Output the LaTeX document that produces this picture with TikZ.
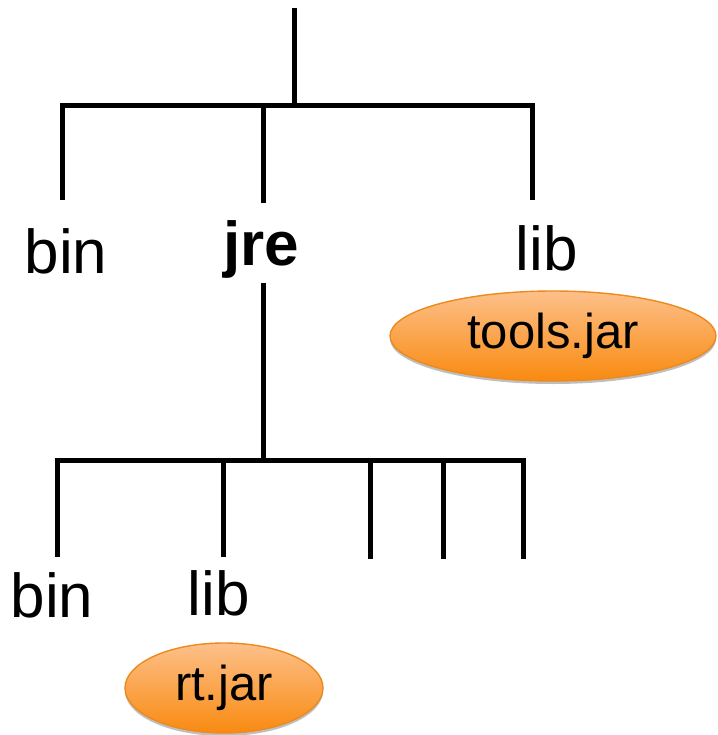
\documentclass[tikz,border=0pt]{standalone}
\usepackage{fontspec}
\setmainfont{Liberation Sans}
\usetikzlibrary{shapes.geometric,shadows}
\definecolor{orTop}{HTML}{FDC08A}
\definecolor{orBot}{HTML}{F98A10}
\definecolor{orEdge}{HTML}{EC8A1E}
\tikzset{
  branch/.style={line width=5pt, black, line cap=butt},
  lbl/.style={anchor=base, inner sep=0pt, font=\fontsize{62}{62}\selectfont},
  jar/.style={ellipse, draw=orEdge, line width=1.4pt, top color=orTop, bottom color=orBot,
    inner sep=0pt, font=\fontsize{49}{49}\selectfont,
    drop shadow={opacity=0.25, shadow xshift=0pt, shadow yshift=-3pt, fill=black}}
}
\begin{document}
\begin{tikzpicture}[x=1pt,y=-1pt]
\useasboundingbox (0,0) rectangle (717,735);
% top level
\coordinate (root) at (294,8);
\coordinate (rootj) at (294,106);
\coordinate (h1l) at (62,106);
\coordinate (h1r) at (532,106);
\coordinate (h1m) at (263,106);
\coordinate (e1) at (62,200);
\coordinate (e2) at (263,203);
\coordinate (e3) at (532,200);
\node[lbl] (bin1) at (66,273) {bin};
\node[lbl, font=\fontsize{62}{62}\selectfont\bfseries] (jre) at (261,265) {jre};
\node[lbl] (lib1) at (547,270) {lib};
\node[jar, minimum width=326pt, minimum height=90pt] (tools) at (553,336) {tools.jar};
\draw[branch] (root) -- (rootj);
\draw[branch] ([xshift=-2.5pt]h1l) -- ([xshift=2.5pt]h1r);
\draw[branch] (h1l) -- (e1);
\draw[branch] (h1m) -- (e2);
\draw[branch] (h1r) -- (e3);
% jre level
\coordinate (jtop) at (263,283);
\coordinate (jbot) at (263,460);
\coordinate (h2l) at (57,460);
\coordinate (h2r) at (523,460);
\coordinate (c1) at (57,460);
\coordinate (c2) at (223,460);
\coordinate (c3) at (370,460);
\coordinate (c4) at (443,460);
\coordinate (c5) at (523,460);
\coordinate (d1) at (57,557);
\coordinate (d2) at (223,557);
\coordinate (d3) at (370,559);
\coordinate (d4) at (443,559);
\coordinate (d5) at (523,559);
\draw[branch] (jtop) -- (jbot);
\draw[branch] ([xshift=-2.5pt]h2l) -- ([xshift=2.5pt]h2r);
\draw[branch] (c1) -- (d1);
\draw[branch] (c2) -- (d2);
\draw[branch] (c3) -- (d3);
\draw[branch] (c4) -- (d4);
\draw[branch] (c5) -- (d5);
\node[lbl] (bin2) at (52,617) {bin};
\node[lbl] (lib2) at (219,615) {lib};
\node[jar, minimum width=198pt, minimum height=90pt] (rt) at (224,688) {rt.jar};
\end{tikzpicture}
\end{document}
